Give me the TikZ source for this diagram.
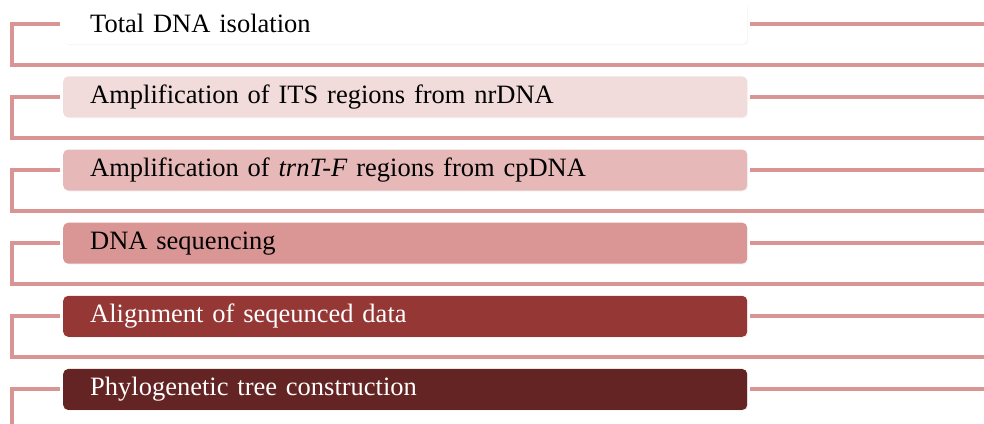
\documentclass[tikz,border=0pt]{standalone}
\usepackage{fontspec}
\setmainfont{Liberation Serif}
\usepackage{tikz}
\usetikzlibrary{calc,positioning,shadows}

\definecolor{linkred}{HTML}{D99594}
\definecolor{fillA}{HTML}{FFFFFF}
\definecolor{fillB}{HTML}{F2DCDB}
\definecolor{fillC}{HTML}{E6B9B8}
\definecolor{fillD}{HTML}{D99694}
\definecolor{fillE}{HTML}{953735}
\definecolor{fillF}{HTML}{632423}

\begin{document}
\begin{tikzpicture}[x=1pt,y=1pt,node distance=31.75pt,
  stepbox/.style={rectangle,rounded corners=5pt,minimum width=684pt,minimum height=41pt,
    text width=630pt,align=left,inner xsep=27pt,inner ysep=0pt,anchor=north west,
    font=\fontsize{26.5}{30}\selectfont,
    drop shadow={shadow xshift=1pt,shadow yshift=-1pt,opacity=0.08}},
  link/.style={draw=linkred,line width=4pt}]
	  \useasboundingbox (0,0) rectangle (984,-423);
	  \coordinate (E) at (984,0);
	  \node[stepbox,fill=fillA] (s1) at (63,-3) {Total DNA isolation};
	  \node[stepbox,fill=fillB] (s2) [below=of s1] {Amplification of ITS regions from nrDNA};
	  \node[stepbox,fill=fillC] (s3) [below=of s2] {Amplification of \textit{trnT-F} regions from cpDNA};
	  \node[stepbox,fill=fillD] (s4) [below=of s3] {DNA sequencing};
	  \node[stepbox,fill=fillE,text=white] (s5) [below=of s4] {Alignment of seqeunced data};
	  \node[stepbox,fill=fillF,text=white] (s6) [below=of s5] {Phylogenetic tree construction};

	  \foreach \s in {s1,s2,s3,s4,s5,s6}
	    \draw[link,shorten <=3pt] (\s.east) -- (\s.east -| E);
	  \foreach \s in {s1,s2,s3,s4,s5}
	    \draw[link,shorten <=3pt] (\s.west) -- ++(-51,0) -- ++(0,-41) -- ($(\s.west -| E)+(0,-41)$);
	  \draw[link,shorten <=3pt] (s6.west) -- ++(-51,0) -- ++(0,-45);
	\end{tikzpicture}
\end{document}
